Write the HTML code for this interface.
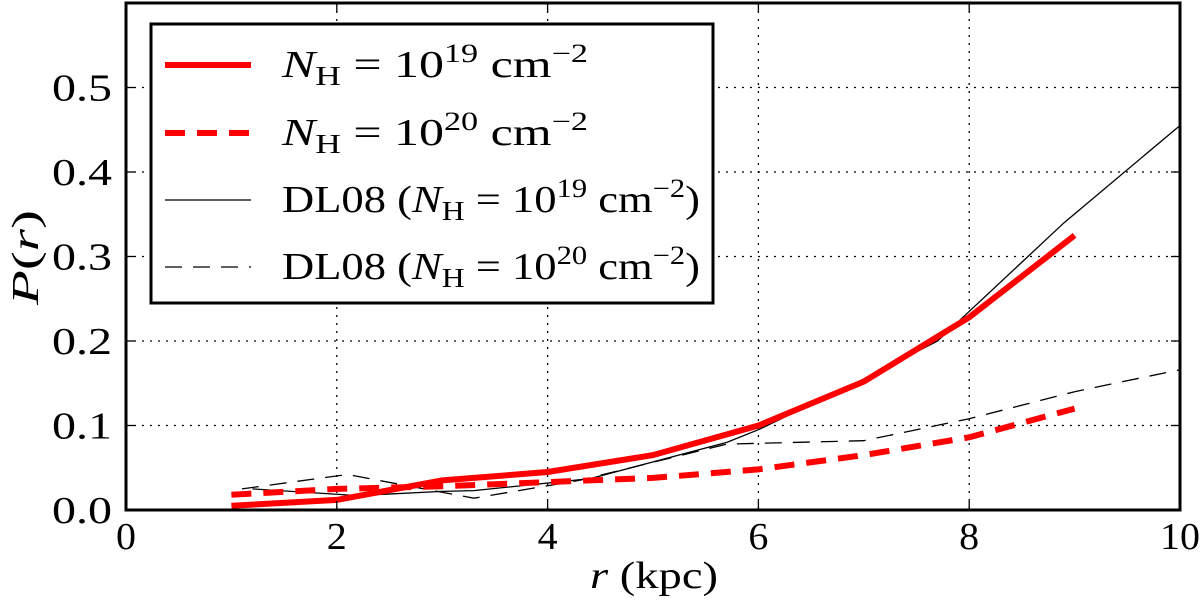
<!DOCTYPE html>
<html><head><meta charset="utf-8"><style>
body{margin:0;background:#fff;}
svg text{font-family:"Liberation Serif","DejaVu Serif",serif;fill:#000;}
</style></head><body>
<svg id="chart" width="1200" height="606" viewBox="0 0 1200 606" xmlns="http://www.w3.org/2000/svg">
<g id="grid"></g>
<g id="series"></g>
<rect x="126" y="3" width="1054" height="507" fill="none" stroke="#000" stroke-width="3"/>
<g id="ticks"></g>
<text x="590" y="588" font-size="38" textLength="128" lengthAdjust="spacingAndGlyphs"><tspan font-style="italic">r</tspan> (kpc)</text>
<text transform="translate(38,305) rotate(-90)" font-size="38" textLength="95" lengthAdjust="spacingAndGlyphs"><tspan font-style="italic">P</tspan>(<tspan font-style="italic">r</tspan>)</text>
<g>
<rect x="151" y="24" width="562" height="279" fill="#fff" stroke="#000" stroke-width="3"/>
<line x1="165" y1="65" x2="251" y2="65" stroke="#f00" stroke-width="6"/>
<text x="282" y="77" font-size="38" textLength="306" lengthAdjust="spacingAndGlyphs"><tspan font-style="italic">N</tspan><tspan font-size="27" dy="8">H</tspan><tspan dy="-8"> = 10</tspan><tspan font-size="26" dy="-15">19</tspan><tspan dy="15"> cm</tspan><tspan font-size="26" dy="-15">−2</tspan></text>
<line x1="165" y1="133" x2="251" y2="133" stroke="#f00" stroke-width="6" stroke-dasharray="20,12"/>
<text x="282" y="145" font-size="38" textLength="306" lengthAdjust="spacingAndGlyphs"><tspan font-style="italic">N</tspan><tspan font-size="27" dy="8">H</tspan><tspan dy="-8"> = 10</tspan><tspan font-size="26" dy="-15">20</tspan><tspan dy="15"> cm</tspan><tspan font-size="26" dy="-15">−2</tspan></text>
<line x1="165" y1="200" x2="251" y2="200" stroke="#000" stroke-width="1.3"/>
<text x="282" y="212" font-size="38" textLength="418" lengthAdjust="spacingAndGlyphs">DL08 (<tspan font-style="italic">N</tspan><tspan font-size="27" dy="8">H</tspan><tspan dy="-8"> = 10</tspan><tspan font-size="26" dy="-15">19</tspan><tspan dy="15"> cm</tspan><tspan font-size="26" dy="-15">−2</tspan><tspan dy="15">)</tspan></text>
<line x1="165" y1="267" x2="251" y2="267" stroke="#000" stroke-width="1.3" stroke-dasharray="17,11"/>
<text x="282" y="279" font-size="38" textLength="418" lengthAdjust="spacingAndGlyphs">DL08 (<tspan font-style="italic">N</tspan><tspan font-size="27" dy="8">H</tspan><tspan dy="-8"> = 10</tspan><tspan font-size="26" dy="-15">20</tspan><tspan dy="15"> cm</tspan><tspan font-size="26" dy="-15">−2</tspan><tspan dy="15">)</tspan></text>
</g>
</svg>
<script>
const xTicks = [0, 2, 4, 6, 8, 10];
const yTicks = [0.0, 0.1, 0.2, 0.3, 0.4, 0.5];
const yTickLabels = ["0.0", "0.1", "0.2", "0.3", "0.4", "0.5"];
const redR = [1, 2, 3, 4, 5, 6, 7, 8, 9];
const redSolidP = [0.005, 0.012, 0.035, 0.045, 0.065, 0.1, 0.152, 0.228, 0.325];
const redDashP = [0.018, 0.025, 0.028, 0.033, 0.038, 0.048, 0.065, 0.086, 0.12];
const dlSolidR = [1.2, 2.2, 3.0, 3.3, 4.4, 5.7, 6.0, 7.0, 7.7, 8.9, 10];
const dlSolidP = [0.025, 0.017, 0.022, 0.023, 0.037, 0.08, 0.095, 0.155, 0.2, 0.34, 0.455];
const dlDashR = [1.1, 2.1, 3.3, 4.3, 5.7, 7.0, 8.0, 9.0, 10];
const dlDashP = [0.025, 0.042, 0.014, 0.035, 0.078, 0.082, 0.108, 0.14, 0.166];

const X0 = 126, X1 = 1180, Y0 = 510, Y1 = 3;
const xs = v => X0 + (v - 0) / 10 * (X1 - X0);
const ys = v => Y0 - v / 0.6 * (Y0 - Y1);
const NS = "http://www.w3.org/2000/svg";
function mk(tag, attrs, parent) {
  const e = document.createElementNS(NS, tag);
  for (const k in attrs) e.setAttribute(k, attrs[k]);
  parent.appendChild(e);
  return e;
}
const grid = document.getElementById('grid');
const ticks = document.getElementById('ticks');
const series = document.getElementById('series');
xTicks.forEach(t => {
  const x = xs(t);
  if (t > 0 && t < 10) {
    const g = mk('line', {x1: x, y1: Y1, x2: x, y2: Y0, stroke: '#000', 'stroke-width': 1.3, 'stroke-dasharray': '2,6'}, grid);
    
    
  }
  const a = mk('line', {x1: x, y1: Y0, x2: x, y2: Y0 - 9, stroke: '#000', 'stroke-width': 1.3}, ticks);
  
  
  const b = mk('line', {x1: x, y1: Y1, x2: x, y2: Y1 + 9, stroke: '#000', 'stroke-width': 1.3}, ticks);
  
  
  const lbl = String(t);
  const w = lbl.length * 20;
  const tx = mk('text', {x: x - w / 2, y: 549, 'font-size': 38, textLength: w, lengthAdjust: 'spacingAndGlyphs'}, ticks);
  tx.textContent = lbl;
  
  
});
yTicks.forEach((t, i) => {
  const y = ys(t);
  if (t > 0) {
    const g = mk('line', {x1: X0, y1: y, x2: X1, y2: y, stroke: '#000', 'stroke-width': 1.3, 'stroke-dasharray': '2,6'}, grid);
    
    
  }
  const a = mk('line', {x1: X0, y1: y, x2: X0 + 9, y2: y, stroke: '#000', 'stroke-width': 1.3}, ticks);
  
  
  const b = mk('line', {x1: X1, y1: y, x2: X1 - 9, y2: y, stroke: '#000', 'stroke-width': 1.3}, ticks);
  
  
  const tx = mk('text', {x: 52, y: y + 13, 'font-size': 38, textLength: 60, lengthAdjust: 'spacingAndGlyphs'}, ticks);
  tx.textContent = yTickLabels[i];
  
  
});
function pts(R, P) { return R.map((r, i) => xs(r).toFixed(1) + ',' + ys(P[i]).toFixed(1)).join(' '); }
const s1 = mk('polyline', {points: pts(dlSolidR, dlSolidP), fill: 'none', stroke: '#000', 'stroke-width': 1.3}, series);


const s2 = mk('polyline', {points: pts(dlDashR, dlDashP), fill: 'none', stroke: '#000', 'stroke-width': 1.3, 'stroke-dasharray': '17,11'}, series);


const s3 = mk('polyline', {points: pts(redR, redSolidP), fill: 'none', stroke: '#f00', 'stroke-width': 6}, series);


const s4 = mk('polyline', {points: pts(redR, redDashP), fill: 'none', stroke: '#f00', 'stroke-width': 6, 'stroke-dasharray': '20,12'}, series);


</script>
</body></html>
